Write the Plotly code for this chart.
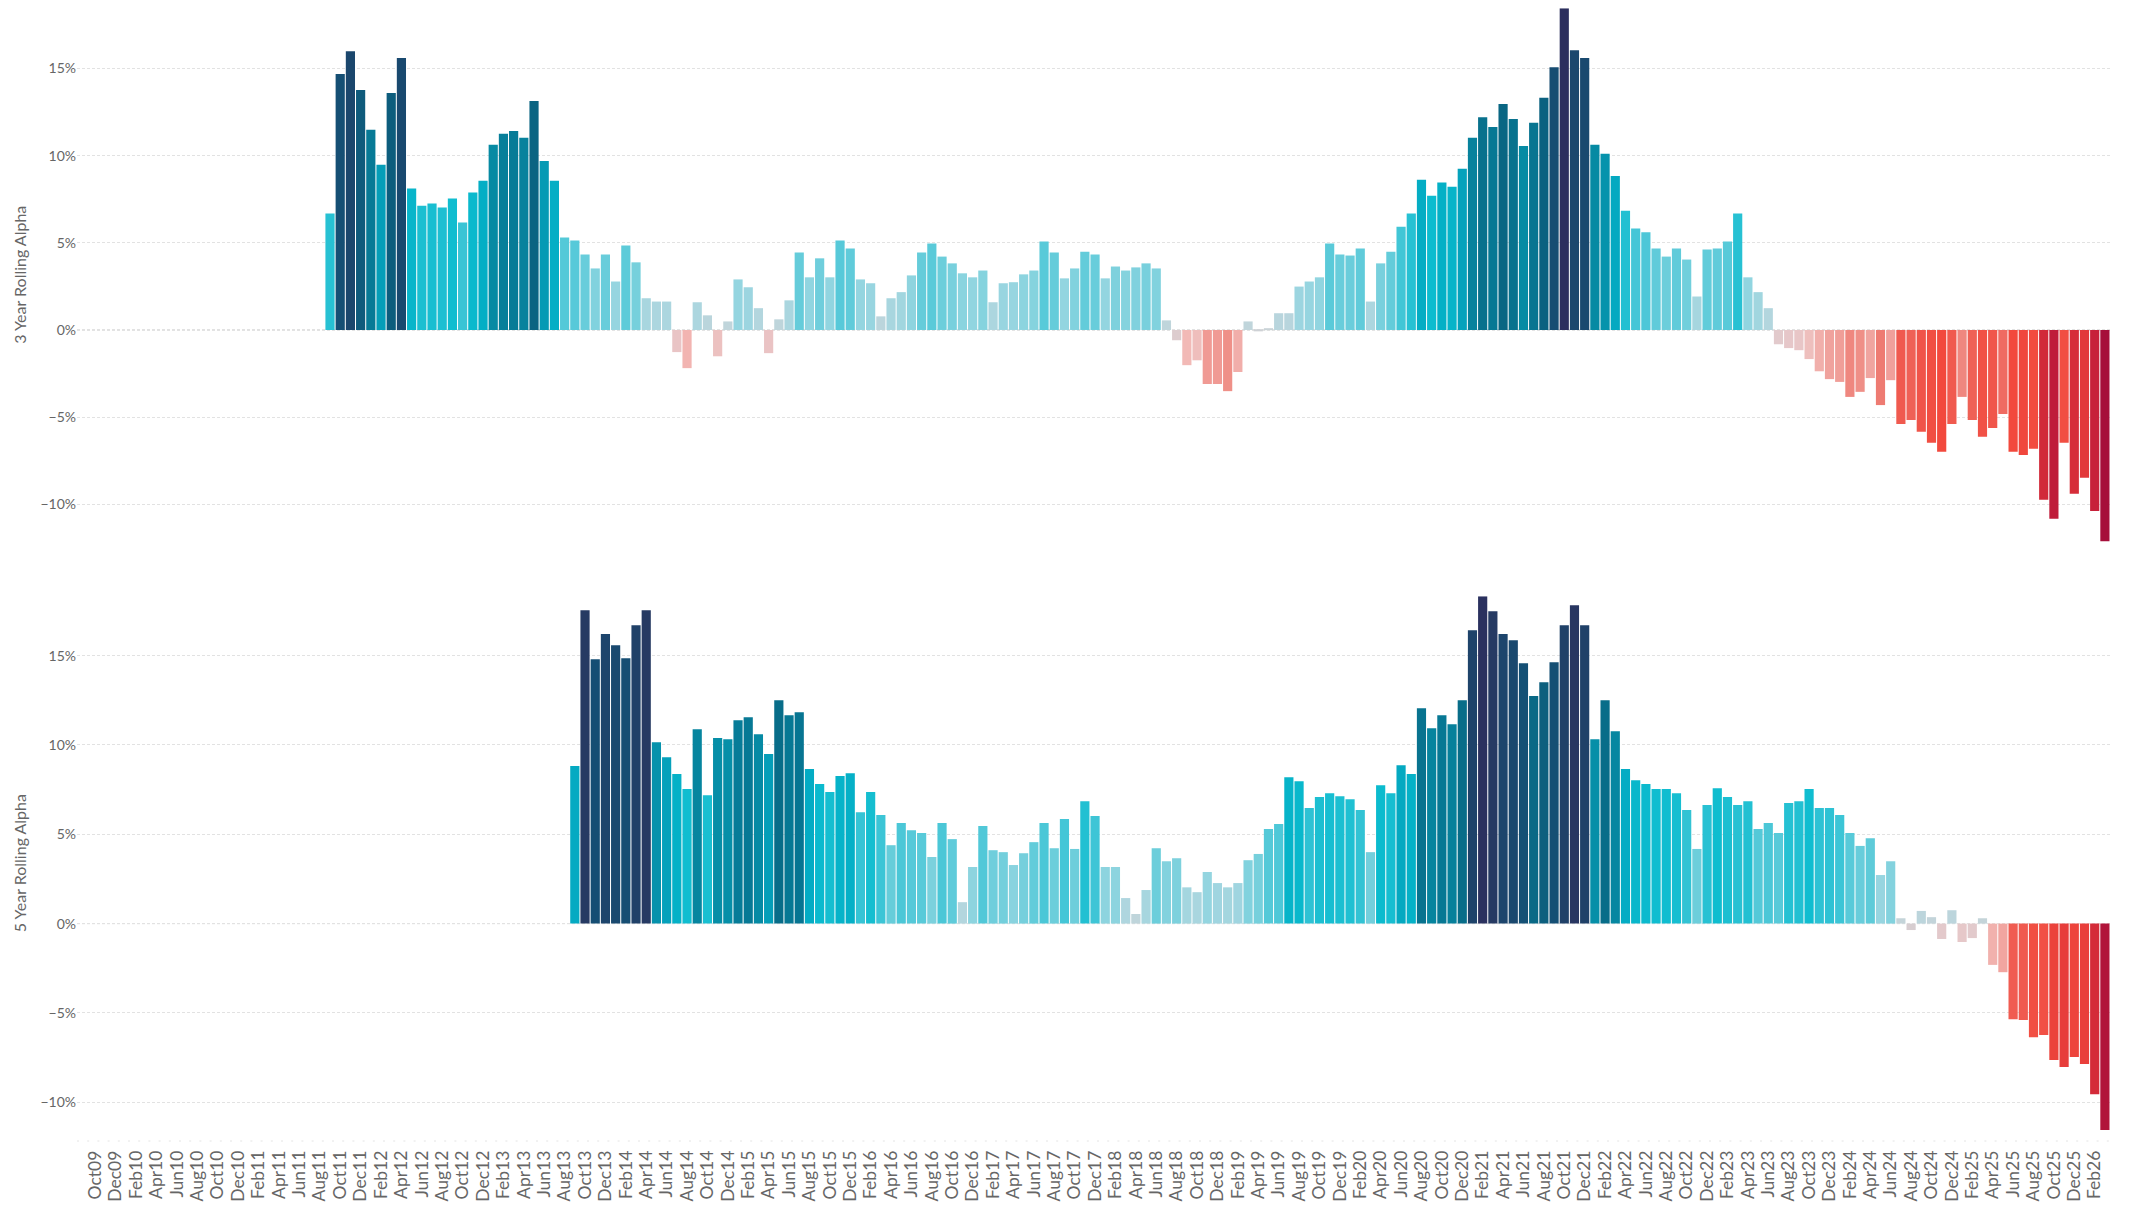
import pandas as pd
import plotly.graph_objects as go

# Monthly category axis, Oct 2009 - Mar 2026
months = pd.date_range("2009-10-01", "2026-03-01", freq="MS").strftime("%b%y").tolist()
tick_labels = months[::2]

# 3 year rolling alpha (%), first observation Sep11
alpha_3y_start = "Sep11"
alpha_3y = [
    6.68, 14.69, 15.99, 13.77, 11.48, 9.48, 13.60, 15.60, 8.11, 7.13,
    7.25, 7.03, 7.54, 6.17, 7.88, 8.56, 10.62, 11.25, 11.42, 11.03,
    13.13, 9.70, 8.56, 5.31, 5.13, 4.33, 3.53, 4.33, 2.78, 4.84,
    3.88, 1.82, 1.63, 1.63, -1.27, -2.19, 1.59, 0.84, -1.51, 0.49,
    2.90, 2.45, 1.25, -1.33, 0.61, 1.70, 4.45, 3.02, 4.11, 3.02,
    5.13, 4.68, 2.90, 2.68, 0.78, 1.82, 2.17, 3.13, 4.45, 4.96,
    4.21, 3.82, 3.25, 3.02, 3.41, 1.59, 2.68, 2.74, 3.19, 3.41,
    5.07, 4.45, 2.96, 3.53, 4.49, 4.33, 2.96, 3.64, 3.41, 3.59,
    3.82, 3.53, 0.55, -0.59, -2.02, -1.74, -3.10, -3.10, -3.51, -2.41,
    0.49, -0.08, 0.10, 0.96, 0.96, 2.49, 2.78, 3.02, 4.96, 4.33,
    4.27, 4.68, 1.63, 3.82, 4.49, 5.92, 6.68, 8.62, 7.70, 8.46,
    8.21, 9.25, 11.03, 12.21, 11.64, 12.97, 12.11, 10.56, 11.89, 13.32,
    15.07, 18.46, 16.05, 15.60, 10.62, 10.11, 8.84, 6.84, 5.82, 5.60,
    4.68, 4.21, 4.68, 4.04, 1.92, 4.62, 4.68, 5.07, 6.68, 3.02,
    2.17, 1.25, -0.82, -1.04, -1.16, -1.67, -2.37, -2.82, -2.98, -3.84,
    -3.55, -2.76, -4.31, -2.88, -5.39, -5.17, -5.84, -6.47, -6.99, -5.39,
    -3.84, -5.17, -6.13, -5.62, -4.82, -6.99, -7.17, -6.82, -9.74, -10.83,
    -6.47, -9.40, -8.48, -10.38, -12.13,
]

# 5 year rolling alpha (%), first observation Sep13
alpha_5y_start = "Sep13"
alpha_5y = [
    8.82, 17.54, 14.80, 16.21, 15.59, 14.86, 16.70, 17.54, 10.15, 9.31,
    8.37, 7.54, 10.88, 7.19, 10.39, 10.32, 11.39, 11.56, 10.60, 9.49,
    12.51, 11.67, 11.84, 8.65, 7.82, 7.37, 8.27, 8.42, 6.23, 7.37,
    6.08, 4.39, 5.63, 5.22, 5.07, 3.73, 5.63, 4.73, 1.20, 3.17,
    5.46, 4.11, 4.00, 3.28, 3.94, 4.56, 5.63, 4.22, 5.85, 4.18,
    6.85, 6.02, 3.17, 3.17, 1.43, 0.54, 1.88, 4.22, 3.49, 3.66,
    2.03, 1.76, 2.89, 2.27, 2.03, 2.27, 3.55, 3.90, 5.29, 5.57,
    8.20, 7.97, 6.47, 7.09, 7.30, 7.13, 6.96, 6.36, 4.00, 7.75,
    7.30, 8.87, 8.37, 12.06, 10.94, 11.67, 11.16, 12.51, 16.42, 18.33,
    17.49, 16.21, 15.87, 14.58, 12.74, 13.51, 14.63, 16.70, 17.82, 16.70,
    10.32, 12.51, 10.77, 8.65, 8.03, 7.82, 7.54, 7.54, 7.30, 6.36,
    4.18, 6.64, 7.58, 7.09, 6.64, 6.85, 5.29, 5.63, 5.07, 6.75,
    6.85, 7.54, 6.47, 6.47, 6.08, 5.07, 4.35, 4.78, 2.72, 3.49,
    0.30, -0.36, 0.71, 0.36, -0.86, 0.75, -1.03, -0.81, 0.30, -2.31,
    -2.72, -5.35, -5.40, -6.36, -6.23, -7.64, -8.03, -7.47, -7.86, -9.55,
    -11.56,
]

titles = ["3 Year Rolling Alpha", "5 Year Rolling Alpha"]

# Diverging colour scale: crimson -> salmon -> grey at zero -> cyan -> teal -> navy
CMIN, CMAX = -12.2, 18.5
color_stops = [
    (-12.2, "#A50E3A"), (-10.5, "#C51F3A"), (-9.0, "#DC3239"), (-7.0, "#F2493D"),
    (-5.5, "#F0574C"), (-4.3, "#EE7B72"), (-3.0, "#F09D97"), (-2.0, "#F2BAB7"),
    (-1.0, "#E6C8CA"), (-0.3, "#D6CED1"), (0.0, "#CBD2D6"), (0.5, "#C0D5DB"),
    (1.5, "#AED6DF"), (3.0, "#92D5E0"), (4.5, "#63CCDA"), (5.5, "#50C8D8"),
    (6.7, "#26C1D3"), (7.7, "#0CBCCF"), (8.5, "#04AFC6"), (9.5, "#059EB8"),
    (10.5, "#068CA5"), (11.5, "#077A96"), (13.0, "#096683"), (14.5, "#145075"),
    (16.0, "#1B476D"), (17.5, "#263A63"), (18.5, "#2C2F5E"),
]
colorscale = [[(v - CMIN) / (CMAX - CMIN), c] for v, c in color_stops]

FONT = "Segoe UI, Lato, Open Sans, sans-serif"
GREY = "#666666"
GRID = "#E2E2E2"

# Plot area in pixels
W, H = 2129, 1210
PL, PR = 77, 2110
x_range = [-1.804, 197.5]
y_domains = [
    [1 - 541.4 / H, 1 - 8.2 / H],
    [1 - 1130.1 / H, 1 - 596.2 / H],
]

fig = go.Figure()
series = [(alpha_3y_start, alpha_3y), (alpha_5y_start, alpha_5y)]
for k, (start, vals) in enumerate(series):
    i0 = months.index(start)
    xs = months[i0:i0 + len(vals)]
    suffix = "" if k == 0 else str(k + 1)
    fig.add_trace(go.Bar(
        x=xs, y=vals,
        xaxis="x" + suffix, yaxis="y" + suffix,
        marker=dict(color=vals, colorscale=colorscale, cmin=CMIN, cmax=CMAX,
                    line=dict(width=0)),
        showlegend=False,
        hovertemplate="%{x}: %{y:.2f}%<extra></extra>",
    ))

    xaxis = dict(
        type="category", categoryorder="array", categoryarray=months,
        range=x_range, domain=[0, 1], anchor="y" + suffix,
        showgrid=False, zeroline=False, showline=False, ticks="",
        fixedrange=True,
    )
    if k == 0:
        xaxis.update(showticklabels=False)
    else:
        xaxis.update(tickmode="array", tickvals=tick_labels, ticktext=tick_labels,
                     tickangle=-90, tickfont=dict(family=FONT, size=17.5, color=GREY),
                     ticklabelstandoff=16)

    yaxis = dict(
        domain=y_domains[k], anchor="x" + suffix,
        range=[min(vals), max(vals)],
        tickmode="linear", tick0=0, dtick=5, ticksuffix="%",
        tickfont=dict(family=FONT, size=14, color=GREY),
        showgrid=True, gridcolor=GRID, gridwidth=1, griddash="3px,2px",
        zeroline=False, showline=False, ticks="",
        title=dict(text=titles[k], font=dict(family=FONT, size=16, color=GREY),
                   standoff=9),
        automargin=False, fixedrange=True,
    )
    fig.layout["xaxis" + suffix] = xaxis
    fig.layout["yaxis" + suffix] = yaxis

    # darker dashed baseline at zero
    fig.add_shape(type="line", xref="x" + suffix + " domain", yref="y" + suffix,
                  x0=0, x1=1, y0=0, y1=0, layer="below",
                  line=dict(color="#C4C4C4", width=1, dash="3px,2px"))

# faint dotted category rule above the month labels
fig.add_shape(type="line", xref="paper", yref="paper",
              x0=0, x1=1, y0=1 - 1141 / H, y1=1 - 1141 / H, layer="below",
              line=dict(color="#E4E4E4", width=1, dash="2px,8.2px"))

fig.update_layout(
    width=W, height=H,
    margin=dict(l=PL, r=W - PR, t=0, b=0, pad=0),
    paper_bgcolor="white", plot_bgcolor="white",
    bargap=0.1,
    font=dict(family=FONT, color=GREY),
)

fig.write_html("out.html", include_plotlyjs=True, full_html=True,
               config={"displayModeBar": False})
